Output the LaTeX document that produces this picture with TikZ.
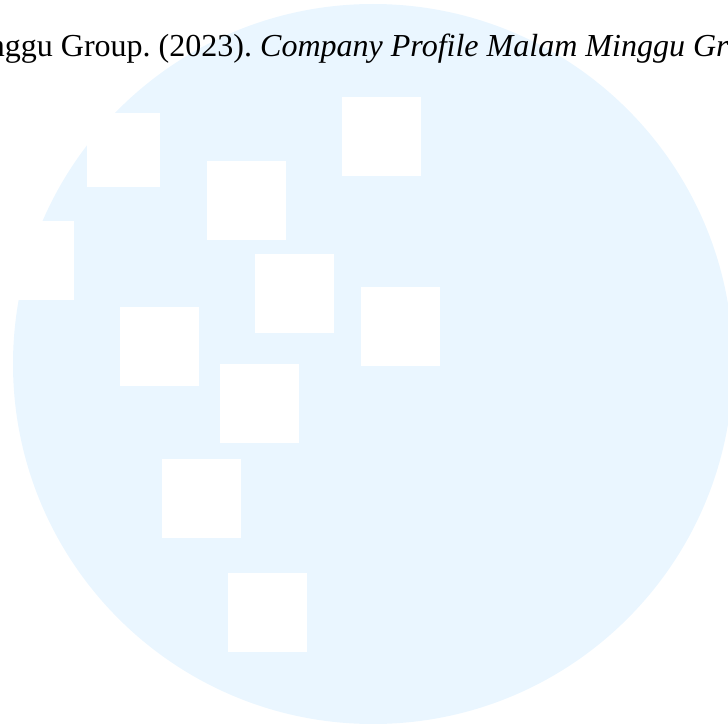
\documentclass[tikz,border=0pt]{standalone}
\usepackage{fontspec}
\setmainfont{Liberation Serif}
\definecolor{pale}{HTML}{EAF6FF}
\tikzset{sq/.style={fill=white,draw=none}}
\begin{document}
\begin{tikzpicture}[x=1bp,y=-1bp]
\useasboundingbox (0,0) rectangle (728,724);
\clip (0,0) rectangle (728,724);
\fill[pale] (373,364) circle (360);
\foreach \x/\y in {207/161,342/97,-5/221,255/254,361/287,120/307,220/364,162/459,228/573}
  \fill[sq] (\x,\y) rectangle ++(79,79);
\fill[sq] (87,113) rectangle (160,187);
\node[anchor=base west,inner sep=0pt,font=\fontsize{32.15}{36}\selectfont] (t) at (-147.5,57) {\frenchspacing Malam Minggu Group. (2023). \textit{Company Profile Malam Minggu Group}};
\end{tikzpicture}
\end{document}
